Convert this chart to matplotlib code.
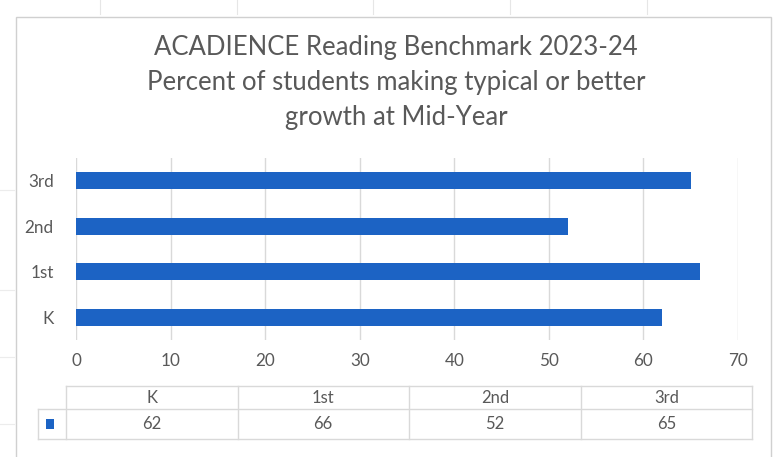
import matplotlib.pyplot as plt
from matplotlib.patches import Rectangle

# chart data
grades = ["K", "1st", "2nd", "3rd"]
pct_growth = [62, 66, 52, 65]
x_ticks = [0, 10, 20, 30, 40, 50, 60, 70]
title_lines = [
    "ACADIENCE Reading Benchmark 2023-24",
    "Percent of students making typical or better",
    "growth at Mid-Year",
]

BAR_BLUE = "#1c63c4"
TEXT_GREY = "#595959"
GRID_GREY = "#d9d9d9"
FONT = ["Lato", "DejaVu Sans"]

plt.rcParams["font.family"] = FONT

W, H = 777, 457
fig = plt.figure(figsize=(W / 100, H / 100), dpi=100)
fig.patch.set_facecolor("white")


def fx(px):
    return px / W


def fy(py):
    return 1 - py / H


# faint spreadsheet grid behind the chart object
for gx in [100, 237, 373, 510, 647]:
    fig.add_artist(plt.Line2D([fx(gx), fx(gx)], [fy(0), fy(14)], color="#e6e6e6", lw=0.8))
for gy in [190, 290, 357, 424]:
    fig.add_artist(plt.Line2D([fx(0), fx(14)], [fy(gy), fy(gy)], color="#ececec", lw=0.8))

# chart area border
fig.add_artist(Rectangle((fx(16), fy(460)), fx(771 - 16), fy(17) - fy(460),
                         transform=fig.transFigure, facecolor="white",
                         edgecolor="#d0d0d0", lw=1.0, zorder=0))

# title
for i, line in enumerate(title_lines):
    fig.text(fx(396), fy(48 + i * 34.5), line, ha="center", va="center",
             fontsize=18.5, color=TEXT_GREY)

# bar plot area
ax = fig.add_axes([fx(76), fy(340), fx(738 - 76), fy(158) - fy(340)])
ax.set_facecolor("none")
ypos = list(range(len(grades)))
ax.barh(ypos, pct_growth, height=0.38, color=BAR_BLUE, zorder=3)
ax.set_xlim(0, 70)
ax.set_ylim(-0.5, len(grades) - 0.5)
ax.set_xticks(x_ticks)
ax.set_yticks(ypos)
ax.set_yticklabels(grades)
ax.grid(axis="x", color=GRID_GREY, lw=1.0, zorder=0)
ax.tick_params(axis="both", length=0, labelsize=12.3, labelcolor=TEXT_GREY)
ax.tick_params(axis="x", pad=9)
ax.tick_params(axis="y", pad=16)
for sp in ax.spines.values():
    sp.set_visible(False)

# data table below the chart, drawn in pixel-like units
T_LEFT, T_KEY, T_RIGHT = 38, 66, 752
T_TOP, T_MID, T_BOT = 386, 409, 439
tax = fig.add_axes([fx(T_LEFT), fy(T_BOT), fx(T_RIGHT - T_LEFT), fy(T_TOP) - fy(T_BOT)])
tax.axis("off")
tax.set_xlim(T_LEFT, T_RIGHT)
tax.set_ylim(T_BOT, T_TOP)
col_w = (T_RIGHT - T_KEY) / len(grades)
col_edges = [T_KEY + i * col_w for i in range(len(grades) + 1)]
line_kw = dict(color=GRID_GREY, lw=1.0, clip_on=False)
tax.plot([T_KEY, T_RIGHT], [T_TOP, T_TOP], **line_kw)
tax.plot([T_LEFT, T_RIGHT], [T_MID, T_MID], **line_kw)
tax.plot([T_LEFT, T_RIGHT], [T_BOT, T_BOT], **line_kw)
tax.plot([T_LEFT, T_LEFT], [T_MID, T_BOT], **line_kw)
for xe in col_edges:
    tax.plot([xe, xe], [T_TOP, T_BOT], **line_kw)
for i, (g, v) in enumerate(zip(grades, pct_growth)):
    xc = (col_edges[i] + col_edges[i + 1]) / 2
    tax.text(xc, (T_TOP + T_MID) / 2 + 0.5, g, ha="center", va="center",
             fontsize=12, color=TEXT_GREY)
    tax.text(xc, (T_MID + T_BOT) / 2, str(v), ha="center", va="center",
             fontsize=12, color=TEXT_GREY)

# legend key in the first cell
tax.add_patch(Rectangle((46, 419), 8, 10, facecolor=BAR_BLUE, edgecolor="none",
                        clip_on=False))

fig.savefig("out.png", dpi=100)
